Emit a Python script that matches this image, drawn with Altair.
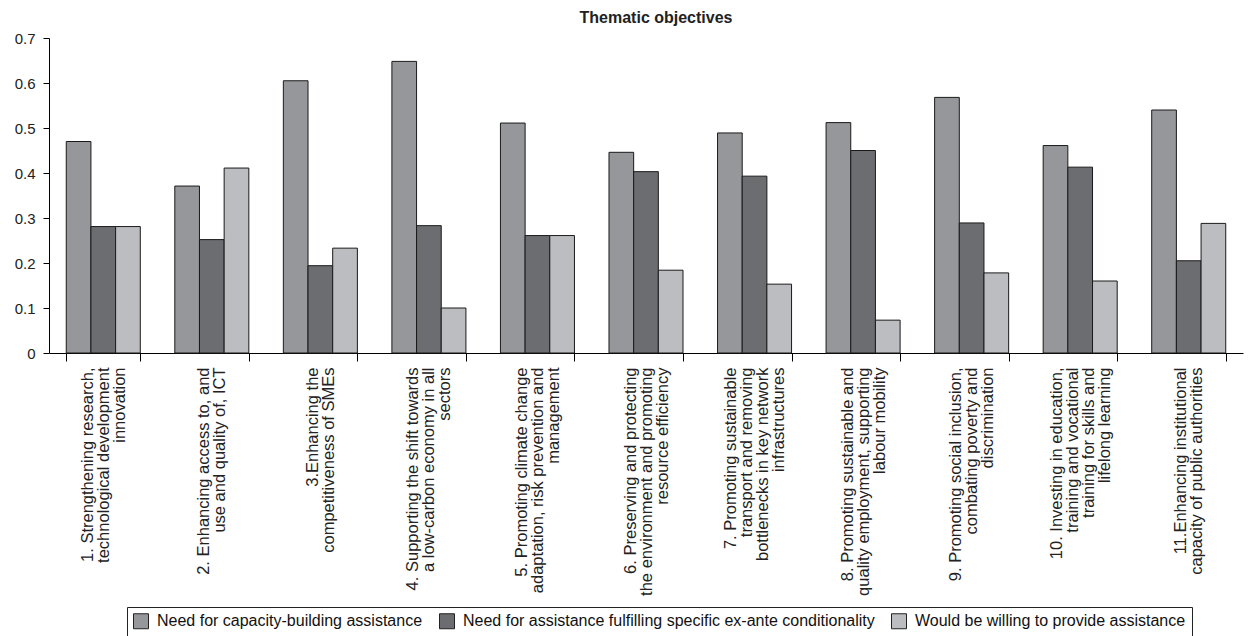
import altair as alt
import pandas as pd

categories = [
    "1. Strengthening research,|technological development|innovation",
    "2. Enhancing access to, and|use and quality of, ICT",
    "3.Enhancing the|competitiveness of SMEs",
    "4. Supporting the shift towards|a low-carbon economy in all|sectors",
    "5. Promoting climate change|adaptation, risk prevention and|management",
    "6. Preserving and protecting|the environment and promoting|resource efficiency",
    "7. Promoting sustainable|transport and removing|bottlenecks in key network|infrastructures",
    "8. Promoting sustainable and|quality employment, supporting|labour mobility",
    "9. Promoting social inclusion,|combating poverty and|discrimination",
    "10. Investing in education,|training and vocational|training for skills and|lifelong learning",
    "11.Enhancing institutional|capacity of public authorities",
]

series = [
    "Need for capacity-building assistance",
    "Need for assistance fulfilling specific ex-ante conditionality",
    "Would be willing to provide assistance",
]

need_capacity = [0.470, 0.371, 0.605, 0.648, 0.511, 0.446, 0.489, 0.512, 0.568, 0.461, 0.540]
need_exante = [0.281, 0.252, 0.194, 0.283, 0.261, 0.403, 0.393, 0.450, 0.289, 0.413, 0.205]
willing = [0.281, 0.411, 0.233, 0.100, 0.261, 0.184, 0.153, 0.073, 0.178, 0.160, 0.288]

colors = ["#96979b", "#6c6d71", "#bcbdc1"]
y_ticks = [0, 0.1, 0.2, 0.3, 0.4, 0.5, 0.6, 0.7]

rows = []
for s, vals in zip(series, [need_capacity, need_exante, willing]):
    for c, v in zip(categories, vals):
        rows.append({"cat": c, "series": s, "value": v})
df = pd.DataFrame(rows)

FONT = "Liberation Sans"
LINE_H = 16

chart = (
    alt.Chart(df)
    .mark_bar(stroke="#1a1a1a", strokeWidth=1)
    .encode(
        x=alt.X(
            "cat:N",
            sort=categories,
            scale=alt.Scale(paddingInner=0.318, paddingOuter=0.159),
            axis=alt.Axis(
                title=None,
                labelAngle=270,
                labelAlign="right",
                labelBaseline="middle",
                labelExpr="split(datum.label, '|')",
                labelFont=FONT,
                labelFontSize=16.5,
                labelLineHeight=LINE_H,
                labelColor="#222222",
                labelLimit=400,
                labelPadding=6,
                labelOffset={
                    "expr": f"-(length(split(datum.value, '|')) - 1) * {LINE_H / 2}"
                },
                tickBand="extent",
                tickSize=8,
                tickColor="#000000",
                domainColor="#000000",
            ),
        ),
        xOffset=alt.XOffset("series:N", sort=series),
        y=alt.Y(
            "value:Q",
            scale=alt.Scale(domain=[0, 0.7], nice=False),
            axis=alt.Axis(
                title=None,
                values=y_ticks,
                grid=False,
                labelExpr="datum.value == 0 ? '0' : format(datum.value, '.1f')",
                labelFont=FONT,
                labelFontSize=15,
                labelColor="#222222",
                labelPadding=8,
                tickSize=6,
                tickColor="#000000",
                domainColor="#000000",
            ),
        ),
        color=alt.Color(
            "series:N",
            sort=series,
            scale=alt.Scale(domain=series, range=colors),
            legend=alt.Legend(
                title=None,
                orient="none",
                direction="horizontal",
                legendX=78,
                legendY=569,
                symbolType="square",
                symbolSize=225,
                symbolStrokeColor="#222222",
                symbolStrokeWidth=1,
                symbolOpacity=1,
                labelFont=FONT,
                labelFontSize=16,
                labelColor="#111111",
                labelLimit=600,
                labelOffset=8,
                columnPadding=14,
                padding=6,
                strokeColor="#222222",
                fillColor="#ffffff",
            ),
        ),
    )
    .properties(
        width=1194,
        height=315,
        title=alt.TitleParams(
            "Thematic objectives",
            font=FONT,
            fontSize=16,
            fontWeight="bold",
            color="#222222",
            anchor="middle",
            offset=5,
            dx=10,
        ),
        autosize=alt.AutoSizeParams(type="none"),
        padding={"left": 41, "top": 30, "right": 5, "bottom": 300},
    )
    .configure_view(stroke=None)
)

chart.save("out.html", embed_options={"renderer": "svg", "actions": False})
